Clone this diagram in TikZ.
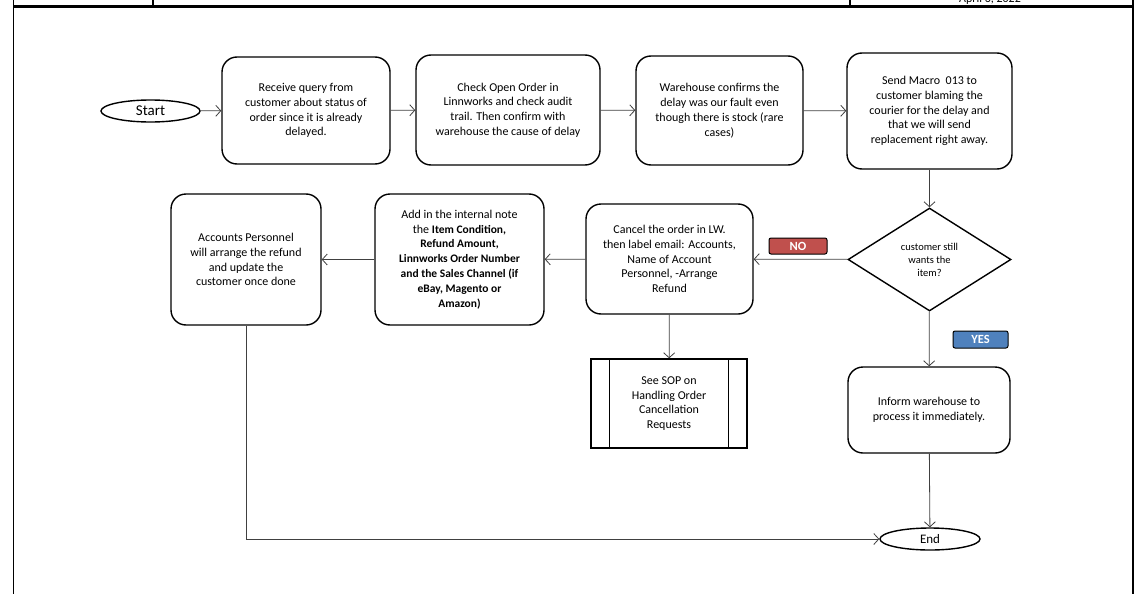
\documentclass[tikz,border=0pt]{standalone}
\usepackage{fontspec}
\setmainfont{Carlito}
\usetikzlibrary{shapes.geometric,arrows.meta}
\definecolor{lineg}{HTML}{404040}
\definecolor{nored}{HTML}{C0504D}
\definecolor{yesblue}{HTML}{4F81BD}
\newcommand{\bfl}[1]{{\fontsize{11.5}{14.8}\selectfont\bfseries #1}}
\tikzset{
  procbox/.style={draw=black, line width=1.4pt, rounded corners=15pt, align=center, inner sep=2pt, font=\fontsize{12}{14.8}\selectfont},
  termnode/.style={draw=black, line width=1.4pt, ellipse, inner sep=0pt},
  decnode/.style={draw=black, line width=1.4pt, diamond, aspect=1.6, inner sep=0pt, align=center, font=\fontsize{10.5}{13}\selectfont},
  sopbox/.style={draw=black, line width=1.4pt, rectangle, align=center, font=\fontsize{12}{14.8}\selectfont},
  tagbox/.style={draw=black, line width=1pt, rounded corners=2pt, text=white, font=\fontsize{12.5}{13}\selectfont\bfseries, inner sep=0pt},
  conn/.style={draw=lineg, line width=0.8pt, -{Straight Barb[length=5pt,width=11pt]}},
}
\begin{document}
\begin{tikzpicture}[x=1pt,y=-1pt]
\useasboundingbox (0,0) rectangle (1145,594);
% page frame
\draw[line width=1.6pt] (13.5,0) -- (13.5,594);
\draw[line width=1.6pt] (1133,0) -- (1133,594);
\draw[line width=2.2pt] (13.5,6.5) -- (1133,6.5);
\draw[line width=1.2pt] (153,0) -- (153,6.5);
\draw[line width=1.2pt] (850,0) -- (850,6.5);
\node[anchor=base, font=\fontsize{12}{12}\selectfont, inner sep=0pt] (date) at (990,2.5) {April 6, 2022};

% nodes
\node[termnode, minimum width=99pt, minimum height=22pt, font=\fontsize{15}{16}\selectfont] (start) at (150.5,111) {Start};
\node[procbox, minimum width=168pt, minimum height=107pt] (b1) at (306,110.5) {Receive query from\\customer about status of\\order since it is already\\delayed.};
\node[procbox, minimum width=184pt, minimum height=110pt] (b2) at (508,110) {Check Open Order in\\Linnworks and check audit\\trail. Then confirm with\\warehouse the cause of delay};
\node[procbox, minimum width=167pt, minimum height=109pt] (b3) at (719.5,110.5) {Warehouse confirms the\\delay was our fault even\\though there is stock (rare\\cases)};
\node[procbox, minimum width=165pt, minimum height=116pt] (b4) at (929.5,111) {Send Macro\ \ 013 to\\customer blaming the\\courier for the delay and\\that we will send\\replacement right away.};
\node[decnode, minimum width=163pt, minimum height=103pt] (dec) at (929.5,259.5) {customer still\\wants the\\item?};
\node[procbox, minimum width=167pt, minimum height=110pt] (cancel) at (669.5,259) {Cancel the order in LW.\\then label email: Accounts,\\Name of Account\\Personnel, -Arrange\\Refund};
\node[procbox, minimum width=169pt, minimum height=131pt] (note) at (459.5,259.5) {Add in the internal note\\the \bfl{Item Condition,}\\\bfl{Refund Amount,}\\\bfl{Linnworks Order Number}\\\bfl{and the Sales Channel (if}\\\bfl{eBay, Magento or}\\\bfl{Amazon)}};
\node[procbox, minimum width=150pt, minimum height=131pt] (acc) at (246,259.5) {Accounts Personnel\\will arrange the refund\\and update the\\customer once done};
\node[sopbox, minimum width=156pt, minimum height=89pt] (sop) at (669,403.5) {See SOP on\\Handling Order\\Cancellation\\Requests};
\draw[line width=1.2pt] ([xshift=19pt]sop.north west) -- ([xshift=19pt]sop.south west);
\draw[line width=1.2pt] ([xshift=-19pt]sop.north east) -- ([xshift=-19pt]sop.south east);
\node[procbox, minimum width=162pt, minimum height=86pt] (inform) at (929,410) {Inform warehouse to\\process it immediately.};
\node[termnode, minimum width=100pt, minimum height=22pt, font=\fontsize{13}{14}\selectfont] (end) at (930,539) {End};
\node[tagbox, fill=nored, minimum width=58pt, minimum height=16pt] (no) at (798,246) {NO};
\node[tagbox, fill=yesblue, minimum width=55pt, minimum height=17pt] (yes) at (980.5,339.5) {YES};

% connectors
\draw[conn] (start) -- (b1);
\draw[conn] (b1) -- (b2);
\draw[conn] (b2) -- (b3);
\draw[conn] (b3) -- (b4);
\draw[conn] (b4) -- (dec);
\draw[conn] (dec) -- (cancel);
\draw[conn] (cancel) -- (note);
\draw[conn] (note) -- (acc);
\draw[conn] (cancel) -- (sop);
\draw[conn] (dec) -- (inform);
\draw[conn] (inform) -- (end);
\draw[conn] (acc.south) |- (end.west);
\end{tikzpicture}
\end{document}
